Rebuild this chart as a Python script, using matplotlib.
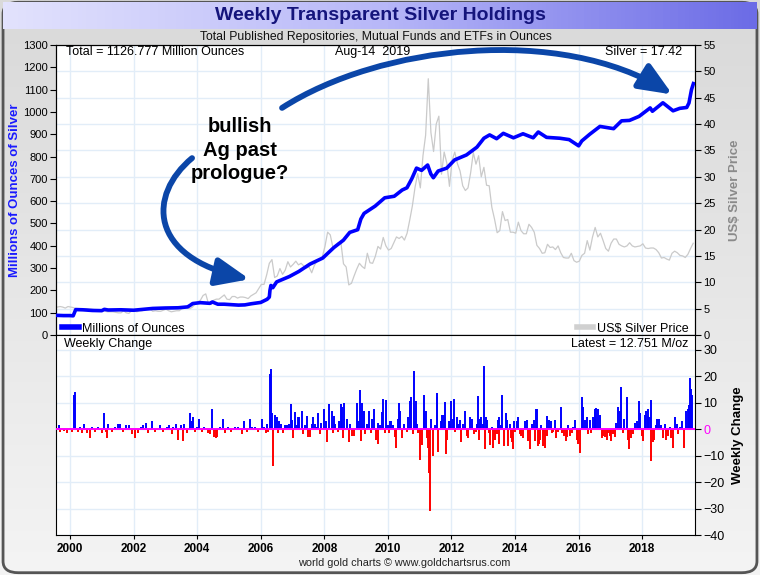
import numpy as np
import matplotlib.pyplot as plt
from matplotlib.colors import LinearSegmentedColormap
from matplotlib.patches import FancyArrowPatch, FancyBboxPatch
from matplotlib.path import Path

plt.rcParams['font.family'] = ['Liberation Sans', 'DejaVu Sans']

# total holdings, millions of ounces
hold_dates = [1999.60, 1999.80, 2000.00, 2000.10, 2000.14, 2000.18, 2000.40, 2000.70, 2001.00, 2001.08,
              2001.20, 2001.60, 2002.00, 2002.30, 2002.60, 2003.00, 2003.40, 2003.70, 2003.78, 2003.86,
              2004.10, 2004.40, 2004.48, 2004.65, 2004.85, 2005.30, 2005.50, 2005.70, 2006.00, 2006.20,
              2006.27, 2006.29, 2006.32, 2006.38, 2006.50, 2006.90, 2007.20, 2007.55, 2007.95, 2008.30,
              2008.60, 2008.80, 2009.05, 2009.15, 2009.25, 2009.60, 2009.90, 2010.20, 2010.45, 2010.60,
              2010.75, 2010.90, 2011.06, 2011.25, 2011.35, 2011.43, 2011.58, 2011.85, 2012.10, 2012.47,
              2012.80, 2013.02, 2013.20, 2013.42, 2013.63, 2013.95, 2014.25, 2014.57, 2014.73, 2014.99,
              2015.41, 2015.70, 2016.00, 2016.10, 2016.35, 2016.67, 2017.10, 2017.35, 2017.60, 2017.90,
              2018.25, 2018.32, 2018.65, 2018.97, 2019.18, 2019.40, 2019.47, 2019.55, 2019.61]
hold_vals = [88, 87, 87, 86, 100, 114, 113, 110, 109, 115,
             112, 113, 111, 115, 119, 121, 122, 126, 133, 141,
             145, 142, 148, 138, 138, 134, 135, 140, 146, 160,
             170, 200, 222, 212, 238, 262, 285, 318, 345, 392,
             425, 460, 472, 520, 545, 578, 615, 622, 650, 660,
             700, 748, 738, 762, 722, 705, 735, 748, 785, 807,
             842, 882, 897, 880, 904, 884, 902, 884, 910, 886,
             882, 876, 848, 870, 900, 935, 925, 960, 962, 980,
             1018, 1003, 1041, 1005, 1016, 1020, 1040, 1100, 1127]

# monthly silver price, US$/oz (1999 starts in August, 2019 ends in August)
silver_by_year = {
    1999: [5.3, 5.4, 5.3, 5.1, 5.4],
    2000: [5.3, 5.2, 5.0, 5.0, 5.0, 5.0, 5.0, 4.9, 4.9, 4.8, 4.7, 4.6],
    2001: [4.7, 4.5, 4.4, 4.4, 4.4, 4.3, 4.2, 4.2, 4.6, 4.2, 4.1, 4.6],
    2002: [4.6, 4.4, 4.6, 4.6, 4.9, 4.9, 4.9, 4.5, 4.6, 4.5, 4.5, 4.7],
    2003: [4.9, 4.6, 4.4, 4.5, 4.6, 4.6, 5.0, 5.1, 5.2, 5.0, 5.3, 5.9],
    2004: [6.3, 6.6, 7.5, 7.8, 6.0, 5.8, 6.6, 6.8, 6.8, 7.2, 7.6, 6.8],
    2005: [6.7, 7.3, 7.3, 7.0, 7.2, 7.2, 7.1, 6.9, 7.4, 7.7, 8.0, 8.8],
    2006: [9.6, 9.6, 11.4, 13.6, 14.3, 10.9, 11.2, 12.6, 11.5, 12.3, 13.9, 12.9],
    2007: [13.4, 14.0, 13.3, 13.6, 13.1, 12.7, 12.9, 11.8, 13.2, 14.0, 14.3, 14.8],
    2008: [16.8, 19.5, 19.0, 16.6, 16.9, 17.5, 17.6, 13.5, 12.9, 9.5, 9.8, 11.2],
    2009: [12.5, 13.6, 13.0, 12.6, 15.5, 13.7, 13.6, 14.9, 16.8, 16.3, 18.5, 16.9],
    2010: [16.1, 16.4, 17.5, 18.6, 18.3, 18.7, 18.0, 19.3, 21.8, 24.5, 28.0, 30.6],
    2011: [27.9, 34.0, 37.9, 48.6, 38.4, 34.8, 40.0, 41.5, 30.5, 34.7, 32.6, 28.2],
    2012: [33.1, 34.7, 32.5, 31.1, 28.3, 27.4, 27.9, 30.8, 34.6, 32.4, 34.0, 30.0],
    2013: [31.8, 28.4, 28.3, 24.2, 22.0, 19.4, 19.8, 23.4, 21.7, 21.9, 19.5, 19.5],
    2014: [19.3, 21.4, 19.8, 19.2, 19.2, 21.0, 20.4, 19.5, 17.0, 16.4, 15.5, 15.6],
    2015: [17.2, 16.6, 16.7, 16.2, 16.9, 15.6, 14.7, 14.6, 14.6, 15.5, 14.1, 13.8],
    2016: [14.0, 15.1, 15.5, 17.9, 16.1, 18.6, 20.4, 18.6, 19.3, 17.9, 16.4, 15.9],
    2017: [17.4, 18.2, 18.2, 17.2, 16.9, 16.7, 16.9, 17.5, 16.9, 16.7, 16.8, 16.9],
    2018: [17.3, 16.5, 16.4, 16.5, 16.5, 16.2, 15.6, 14.6, 14.7, 14.4, 14.2, 15.5],
    2019: [15.9, 15.6, 15.1, 15.0, 14.7, 15.3, 16.4, 17.4],
}

# weekly change, millions of ounces (date, change)
weekly_change = [
    (1999.65, 1.5), (1999.70, -1), (1999.80, -0.8), (1999.90, -1.5), (2000.05, -1), (2000.13, 13),
    (2000.17, 14), (2000.24, -1), (2000.31, 1), (2000.37, -1.5), (2000.45, 2), (2000.52, -1.5),
    (2000.63, -3.5), (2000.70, 1), (2000.79, -1), (2000.89, 1), (2001.00, -1.5), (2001.08, 6),
    (2001.13, -1), (2001.17, -3.3), (2001.20, 2), (2001.31, -1), (2001.41, 1), (2001.52, 2),
    (2001.58, 2), (2001.68, -1), (2001.75, 1.5), (2001.86, 1.5), (2001.94, -2), (2002.04, -3.5),
    (2002.13, -1.5), (2002.23, 1), (2002.31, 1.5), (2002.38, 2.5), (2002.46, -1.5), (2002.59, 3),
    (2002.67, -1), (2002.83, 1.5), (2002.93, -1), (2003.04, 1), (2003.11, 1.5), (2003.20, -2),
    (2003.25, 1), (2003.32, 2), (2003.41, -4), (2003.49, 1.5), (2003.56, -4.5), (2003.59, 2),
    (2003.69, -1.5), (2003.77, 6), (2003.83, 3), (2003.86, 4.5), (2003.93, -1), (2004.00, 1),
    (2004.06, 4), (2004.14, -1), (2004.22, 0.8), (2004.35, -1.5), (2004.40, -2), (2004.47, 7.5),
    (2004.54, -3), (2004.59, -3.5), (2004.64, -3), (2004.72, 1), (2004.82, 4), (2004.87, -1.5),
    (2004.98, 1), (2005.08, -1), (2005.19, 1), (2005.29, 1), (2005.40, -2), (2005.47, 3),
    (2005.56, -1), (2005.66, 4), (2005.73, 1), (2005.82, 1), (2005.92, -1), (2006.05, 4),
    (2006.11, 1), (2006.18, -1.5), (2006.21, 2), (2006.24, -1), (2006.28, 20.8), (2006.31, 22.9),
    (2006.36, 6), (2006.39, -13.8), (2006.45, 5.5), (2006.50, 4.5), (2006.55, -1.5), (2006.58, 3),
    (2006.64, 2), (2006.71, -1.5), (2006.76, 1.5), (2006.82, 1.5), (2006.89, 2), (2006.95, 9.5),
    (2006.99, 3.5), (2007.02, -3.5), (2007.08, 6.5), (2007.13, 1.5), (2007.16, 4.5), (2007.20, 4.5),
    (2007.29, 7), (2007.32, -2), (2007.39, 1.5), (2007.44, 5), (2007.50, -3), (2007.55, -3),
    (2007.60, 2), (2007.65, 4.5), (2007.71, 2), (2007.76, 1), (2007.81, 6), (2007.86, -2),
    (2007.91, 2.5), (2007.99, 7.5), (2008.04, 3), (2008.09, -5), (2008.15, 9.5), (2008.23, 7),
    (2008.28, -1.5), (2008.31, 5), (2008.35, 2), (2008.42, -1), (2008.46, 3), (2008.52, 9.5),
    (2008.55, 8.5), (2008.60, -3.5), (2008.62, 10), (2008.70, 4), (2008.77, -5), (2008.82, 2),
    (2008.88, -2.5), (2008.94, -2.5), (2009.02, 10), (2009.07, 3), (2009.12, 14.8), (2009.15, -4.5),
    (2009.19, 10), (2009.24, 7), (2009.28, -2), (2009.34, 2), (2009.41, 7), (2009.47, -1.5),
    (2009.51, 4), (2009.57, 7.5), (2009.64, -4), (2009.68, 2.5), (2009.70, -5.5), (2009.75, 1.5),
    (2009.80, 6.5), (2009.85, 11.5), (2009.91, -1.5), (2009.93, 11), (2009.99, 1.5), (2010.03, -1.5),
    (2010.06, 3), (2010.09, 3), (2010.17, 1.5), (2010.22, -3), (2010.27, -7), (2010.32, 4),
    (2010.36, 10), (2010.39, 7), (2010.45, -3.5), (2010.51, 2), (2010.59, -1), (2010.64, 4.5),
    (2010.69, 10.5), (2010.74, 12), (2010.79, -2), (2010.82, 22), (2010.85, 3), (2010.88, 10.5),
    (2010.93, 2), (2010.95, -1.5), (2011.00, -11.5), (2011.08, -6), (2011.12, 7), (2011.14, 13),
    (2011.19, 7), (2011.23, -3.5), (2011.27, -7), (2011.30, -16.5), (2011.33, -31), (2011.37, 4),
    (2011.43, -10), (2011.48, 1.5), (2011.53, 12), (2011.55, 13.5), (2011.58, -8.5), (2011.66, 3),
    (2011.71, 5.5), (2011.77, 5.5), (2011.80, 10.3), (2011.82, -9.5), (2011.87, -4), (2011.92, 3),
    (2011.96, 2), (2012.00, 10.5), (2012.04, 4), (2012.07, 11.5), (2012.11, -1), (2012.16, 4.5),
    (2012.21, 2), (2012.26, 3.5), (2012.31, -5), (2012.37, 2), (2012.42, 7), (2012.49, -2.5),
    (2012.53, -3.5), (2012.58, 4.5), (2012.65, 4), (2012.71, -2), (2012.76, -1), (2012.80, 2),
    (2012.84, 12.5), (2012.87, -4), (2012.89, 4), (2012.94, 4.5), (2012.99, 2), (2013.02, 23.7),
    (2013.04, -7.5), (2013.08, 4.5), (2013.13, 3.5), (2013.18, -1.5), (2013.21, -6), (2013.26, 1),
    (2013.31, -7), (2013.37, -4), (2013.42, -2), (2013.47, 3.5), (2013.49, 4.5), (2013.51, -5.5),
    (2013.56, 1.5), (2013.60, 13), (2013.66, -6.5), (2013.70, 6), (2013.76, 3.5), (2013.78, -6.5),
    (2013.84, 2), (2013.86, -3.5), (2013.91, -5), (2013.95, -7.5), (2013.96, 3), (2014.01, -1),
    (2014.05, 3), (2014.10, 4.5), (2014.15, -2), (2014.20, -2.5), (2014.26, -3.5), (2014.31, 3),
    (2014.36, 3.5), (2014.41, -4.5), (2014.47, -7.5), (2014.54, 2), (2014.58, 3.5), (2014.62, -4.5),
    (2014.65, 7.5), (2014.69, 7.5), (2014.71, -6.5), (2014.76, -5.5), (2014.80, -4), (2014.83, 1.5),
    (2014.88, -6.5), (2014.94, -7), (2014.99, 5), (2015.02, -2.5), (2015.06, 3.5), (2015.13, 3),
    (2015.15, -1.5), (2015.20, -1), (2015.25, 3.5), (2015.30, -3.5), (2015.36, -1), (2015.44, 8.5),
    (2015.48, -1.5), (2015.55, -2.5), (2015.59, -4.5), (2015.63, -3), (2015.67, 1.5), (2015.72, -2.5),
    (2015.78, -1.5), (2015.83, 1), (2015.88, 3.5), (2015.94, -4), (2015.99, -5.5), (2016.04, -9),
    (2016.09, 12), (2016.14, 8.5), (2016.20, 3.5), (2016.25, 4.5), (2016.30, -2), (2016.35, 3.5),
    (2016.40, -1.5), (2016.46, 4.5), (2016.51, 6.5), (2016.53, 7.5), (2016.56, 8), (2016.62, 7.5),
    (2016.67, 5.5), (2016.72, -3.5), (2016.77, -2.5), (2016.82, -3), (2016.88, -4), (2016.93, -1.5),
    (2016.98, -2.5), (2017.03, -4.5), (2017.09, -2), (2017.14, -3), (2017.19, 2.5), (2017.24, 8.5),
    (2017.29, 7), (2017.33, 16), (2017.38, -1.5), (2017.43, 4), (2017.51, 12), (2017.54, -4),
    (2017.59, -7.5), (2017.64, -3.5), (2017.72, -2), (2017.77, 2.5), (2017.82, 3), (2017.87, 2),
    (2017.90, 10.5), (2017.93, 6), (2017.98, -2.5), (2018.03, -4.5), (2018.08, 5.5), (2018.12, 7),
    (2018.17, 5), (2018.19, 7.5), (2018.24, 4.5), (2018.27, 11), (2018.29, -12), (2018.33, -5),
    (2018.38, -4), (2018.42, 1.5), (2018.47, 4), (2018.53, 4), (2018.59, 1.5), (2018.66, -3.5),
    (2018.71, 2), (2018.76, -4), (2018.82, -2.5), (2018.87, 1), (2018.92, -3.5), (2018.97, -7),
    (2019.03, 4.5), (2019.08, 2), (2019.13, -2), (2019.18, 1), (2019.26, 3), (2019.32, -7),
    (2019.39, 7), (2019.44, 7.5), (2019.47, 9), (2019.50, 19.5), (2019.53, 15), (2019.57, 12.751),
]

year_ticks = list(range(2000, 2019, 2))
left_ticks = list(range(0, 1301, 100))
right_ticks = list(range(0, 56, 5))
change_ticks = list(range(-40, 31, 10))

silver_dates = []
silver_vals = []
for yr, vals in silver_by_year.items():
    first = 7 if yr == 1999 else 0
    for i, v in enumerate(vals):
        silver_dates.append(yr + (first + i) / 12 + 0.02)
        silver_vals.append(v)
chg_dates = np.array([d for d, v in weekly_change])
chg_vals = np.array([v for d, v in weekly_change])

W, H = 760, 575
fig = plt.figure(figsize=(7.6, 5.75), dpi=100)
fig.patch.set_facecolor('white')

# background panel with a soft grey gradient
bg = fig.add_axes([0, 0, 1, 1], zorder=-10)
bg.axis('off')
grad = np.linspace(0, 1, 200).reshape(-1, 1) * np.ones((1, 10))
bg.imshow(grad, cmap=LinearSegmentedColormap.from_list('g', ['#d9d9d9', '#f4f4f4']),
          extent=[0, 1, 0, 1], aspect='auto', origin='upper', transform=bg.transAxes)
bg.add_patch(FancyBboxPatch((0.004, 0.004), 0.992, 0.992, boxstyle='round,pad=0,rounding_size=0.02',
                            transform=bg.transAxes, fill=False, ec='#555555', lw=2))

# title band
tb = fig.add_axes([0.004, 1 - 29 / H, 0.992, 27 / H], zorder=-5)
tb.axis('off')
hgrad = np.linspace(0, 1, 200).reshape(1, -1)
tb.imshow(hgrad, cmap=LinearSegmentedColormap.from_list('t', ['#e2e2fd', '#b8b8f8', '#6c6ce6']),
          extent=[0, 1, 0, 1], aspect='auto', transform=tb.transAxes)
fig.text(0.5, 1 - 16 / H, 'Weekly Transparent Silver Holdings', ha='center', va='center',
         fontsize=14, fontweight='bold', color='#14147c')
fig.text(0.494, 1 - 37 / H, 'Total Published Repositories, Mutual Funds and ETFs in Ounces', ha='center',
         va='center', fontsize=8.8, color='#111111')

x0, x1 = 1999.56, 2019.66
left, right = 56 / W, 695 / W

# top panel: silver on the base axes (right scale), holdings on the twin (left scale)
ax = fig.add_axes([left, (H - 335) / H, right - left, 290 / H])
ax.set_facecolor('white')
ax.plot(silver_dates, silver_vals, color='#cacaca', lw=0.9, zorder=2)
ax.set_xlim(x0, x1)
ax.set_ylim(0, 55)
ax.set_xticks(year_ticks)
ax.grid(True, color='#e2edf8', lw=1, zorder=0)
ax.set_axisbelow(True)
leg2 = ax.legend([plt.Line2D([], [], color='#d0d0d0', lw=4)], ['US$ Silver Price'], loc='lower right',
                 frameon=False, fontsize=9, handlelength=1.3, handletextpad=0.3,
                 borderaxespad=0.1, bbox_to_anchor=(1.0, -0.02))

axh = ax.twinx()
axh.plot(hold_dates, hold_vals, color='#0000ff', lw=2.6, zorder=3)
axh.set_ylim(0, 1300)
axh.set_xlim(x0, x1)
axh.set_yticks(left_ticks)
axh.yaxis.tick_left()
axh.yaxis.set_label_position('left')
axh.tick_params(axis='y', direction='out', length=4, labelsize=8, pad=2)
axh.set_ylabel('Millions of Ounces of Silver', color='#1a1aff', fontsize=9.5, fontweight='bold')
axh.yaxis.set_label_coords(-35 / 639, 0.5)
axh.legend([plt.Line2D([], [], color='#0000ff', lw=4)], ['Millions of Ounces'], loc='lower left',
           frameon=False, fontsize=9, handlelength=1.3, handletextpad=0.3,
           borderaxespad=0.1, bbox_to_anchor=(0.0, -0.02))

# twinx moved the base axis ticks to the left; put them back on the right
ax.set_yticks(right_ticks)
ax.yaxis.tick_right()
ax.yaxis.set_label_position('right')
ax.tick_params(axis='x', length=0, labelbottom=False)
ax.tick_params(axis='y', direction='out', length=4, labelsize=8, pad=2)
ax.set_ylabel('US$ Silver Price', color='#8a8a8a', fontsize=9.5, fontweight='bold')
ax.yaxis.set_label_coords(1 + 34 / 639, 0.5)

axh.text(0.015, 0.975, 'Total = 1126.777 Million Ounces', transform=axh.transAxes, fontsize=9, va='center')
axh.text(0.495, 0.975, 'Aug-14  2019', transform=axh.transAxes, fontsize=9, va='center', ha='center')
axh.text(0.98, 0.975, 'Silver = 17.42', transform=axh.transAxes, fontsize=9, va='center', ha='right')

axh.text(2005.35, 829, 'bullish\nAg past\nprologue?', ha='center', va='center', fontsize=14.5,
         fontweight='bold', linespacing=1.3)

arrow_col = '#0b46a8'
curve1 = Path([(2003.84, 793), (2002.45, 628), (2002.45, 350), (2005.65, 250)],
              [Path.MOVETO, Path.CURVE4, Path.CURVE4, Path.CURVE4])
curve2 = Path([(2006.67, 1018), (2009.75, 1300), (2015.41, 1390), (2018.95, 1078)],
              [Path.MOVETO, Path.CURVE4, Path.CURVE4, Path.CURVE4])
for c in (curve1, curve2):
    axh.add_patch(FancyArrowPatch(path=c, arrowstyle='-|>,head_length=1.0,head_width=0.42',
                                  mutation_scale=20, lw=4.2, color=arrow_col,
                                  transform=axh.transData, clip_on=False, zorder=5))

# bottom panel: weekly change
ax2 = fig.add_axes([left, (H - 535) / H, right - left, 200 / H])
ax2.set_facecolor('white')
ax2.vlines(chg_dates, 0, chg_vals, colors=np.where(chg_vals >= 0, '#0000ff', '#ff0000'), lw=1.4, zorder=2)
ax2.axhline(0, color='#ff00ff', lw=1.4, zorder=3)
ax2.set_xlim(x0, x1)
ax2.set_ylim(-40, 35.6)
ax2.set_xticks(year_ticks)
ax2.set_xticklabels([str(y) for y in year_ticks], fontweight='bold', fontsize=8.5)
ax2.set_yticks(change_ticks)
ax2.yaxis.tick_right()
ax2.tick_params(axis='y', direction='out', length=4, labelsize=9, pad=2)
ax2.tick_params(axis='x', direction='out', length=3, pad=3)
for lab in ax2.get_yticklabels():
    if lab.get_text() in ('0', '\u22120'):
        lab.set_color('#ff00ff')
ax2.grid(True, color='#e2edf8', lw=1, zorder=0)
ax2.set_axisbelow(True)
ax2.set_ylabel('Weekly Change', fontsize=9.5, fontweight='bold')
ax2.yaxis.set_label_position('right')
ax2.yaxis.set_label_coords(1 + 37 / 639, 0.5)
ax2.text(0.012, 0.955, 'Weekly Change', transform=ax2.transAxes, fontsize=9, va='center')
ax2.text(0.99, 0.955, 'Latest = 12.751 M/oz', transform=ax2.transAxes, fontsize=9, va='center', ha='right')

fig.text(0.532, 1 - 563 / H, 'world gold charts \u00a9 www.goldchartsrus.com', ha='center', va='center',
         fontsize=7.8, color='#222222')

fig.savefig('out.png', dpi=100)
